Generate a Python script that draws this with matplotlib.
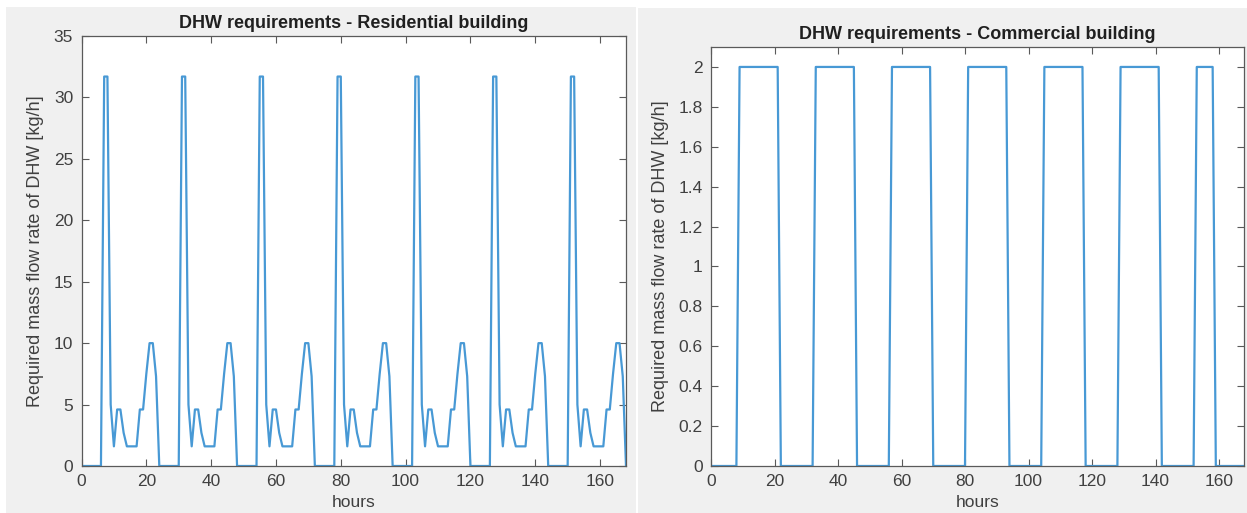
import matplotlib
matplotlib.use('Agg')
import matplotlib.pyplot as plt
import numpy as np
from matplotlib.patches import Rectangle
from matplotlib.ticker import FormatStrFormatter

# hourly DHW demand profiles, kg/h
res_day = [0, 0, 0, 0, 0, 0, 0, 31.7, 31.7, 5.0, 1.6, 4.6,
           4.6, 2.7, 1.6, 1.6, 1.6, 1.6, 4.6, 4.6, 7.5, 10.0, 10.0, 7.3]
com_weekday = [0, 0, 0, 0, 0, 0, 0, 0, 0, 2, 2, 2,
               2, 2, 2, 2, 2, 2, 2, 2, 2, 2, 0, 0]
com_lastday = [0, 0, 0, 0, 0, 0, 0, 0, 0, 2, 2, 2,
               2, 2, 2, 0, 0, 0, 0, 0, 0, 0, 0, 0]
n_days = 7

hours = np.arange(0, 24 * n_days + 1)
res_flow = np.concatenate([np.tile(res_day, n_days), [0]])
com_flow = np.concatenate([np.tile(com_weekday, n_days - 1), com_lastday, [0]])

W, H = 1247, 513
LINE = '#4899d5'
TXT = '#404040'
plt.rcParams['font.family'] = ['Liberation Sans', 'DejaVu Sans']

fig = plt.figure(figsize=(W / 100, H / 100), dpi=100, facecolor='white')
# grey figure panels
fig.patches.append(Rectangle((6 / W, 0), 630 / W, 506 / H, transform=fig.transFigure,
                             facecolor='#f0f0f0', edgecolor='none', zorder=-10))
fig.patches.append(Rectangle((638 / W, 0), 609 / W, 505 / H, transform=fig.transFigure,
                             facecolor='#f0f0f0', edgecolor='none', zorder=-10))


def make_axes(px_left, px_top, px_right, px_bottom):
    ax = fig.add_axes([px_left / W, (H - px_bottom) / H,
                       (px_right - px_left) / W, (px_bottom - px_top) / H])
    ax.set_facecolor('white')
    for s in ax.spines.values():
        s.set_color('#5a5a5a')
        s.set_linewidth(0.9)
    ax.tick_params(direction='in', top=True, right=True, length=5, width=0.8,
                   color='#5a5a5a', labelsize=12.5, labelcolor=TXT, pad=6)
    ax.set_xlim(0, 168)
    ax.set_xticks(np.arange(0, 161, 20))
    return ax


def label(ax, title):
    ax.set_title(title, fontsize=13, fontweight='bold', color='#202020', pad=6)
    ax.set_ylabel('Required mass flow rate of DHW [kg/h]', fontsize=13,
                  color=TXT, labelpad=7)
    ax.set_xlabel('hours', fontsize=12.5, color=TXT, labelpad=4)


ax1 = make_axes(81.5, 36, 626, 466)
ax1.plot(hours, res_flow, color=LINE, lw=1.6)
ax1.set_ylim(0, 35)
ax1.set_yticks(np.arange(0, 36, 5))
label(ax1, 'DHW requirements - Residential building')

ax2 = make_axes(711, 47, 1244.4, 466)
ax2.plot(hours, com_flow, color=LINE, lw=1.6)
ax2.set_ylim(0, 2.1)
ax2.set_yticks(np.arange(0, 2.01, 0.2))
ax2.yaxis.set_major_formatter(FormatStrFormatter('%g'))
label(ax2, 'DHW requirements - Commercial building')

fig.savefig('out.png', dpi=100, facecolor=fig.get_facecolor())
